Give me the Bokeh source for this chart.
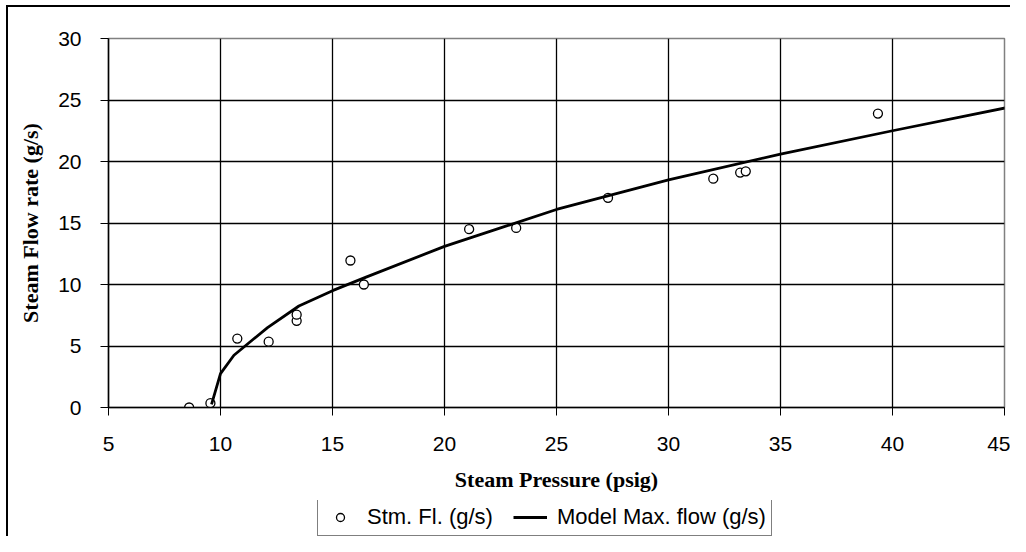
from bokeh.plotting import figure
from bokeh.layouts import column
from bokeh.models import Range1d, Legend, LegendItem, FixedTicker
from bokeh.embed import file_html
from bokeh.resources import INLINE

# Measured data points
pressure = [8.6, 9.55, 10.75, 12.15, 13.4, 13.4, 15.8, 16.4, 21.1, 23.2, 27.3, 32.0, 33.2, 33.45, 39.35]
flow = [0.0, 0.35, 5.6, 5.35, 7.05, 7.55, 11.95, 10.0, 14.5, 14.6, 17.05, 18.6, 19.1, 19.2, 23.9]

# Model curve
model_p = [9.6, 10.0, 10.6, 12.1, 13.5, 15.0, 16.5, 20.0, 25.0, 30.0, 35.0, 40.0, 45.3]
model_f = [0.25, 2.75, 4.25, 6.5, 8.25, 9.5, 10.6, 13.1, 16.1, 18.5, 20.6, 22.5, 24.45]

x_ticks = [5, 10, 15, 20, 25, 30, 35, 40, 45]
y_ticks = [0, 5, 10, 15, 20, 25, 30]

pts_style = dict(marker="circle", size=9, fill_color="white", line_color="black", line_width=1.3)
line_style = dict(line_color="black", line_width=2.8)

p = figure(width=1002, height=493, output_backend="svg", toolbar_location=None,
           x_range=Range1d(5, 45), y_range=Range1d(0, 30),
           min_border_left=100, min_border_top=31, min_border_right=6, min_border_bottom=93)

p.background_fill_color = "white"
p.border_fill_color = "white"
p.outline_line_color = "#808080"
p.outline_line_width = 1.5

for ax in (p.xaxis, p.yaxis):
    ax.axis_line_color = "black"
    ax.axis_line_width = 1.5
    ax.major_tick_line_color = "black"
    ax.major_tick_out = 8
    ax.major_tick_in = 0
    ax.minor_tick_line_color = None
    ax.major_label_text_font = "Liberation Sans"
    ax.major_label_text_font_size = "21px"
    ax.major_label_text_color = "black"
    ax.axis_label_text_font = "Liberation Serif"
    ax.axis_label_text_font_style = "bold"
    ax.axis_label_text_font_size = "22px"
    ax.axis_label_text_color = "black"

p.xaxis.ticker = FixedTicker(ticks=x_ticks)
p.yaxis.ticker = FixedTicker(ticks=y_ticks)
p.xaxis.axis_label = "Steam Pressure (psig)"
p.yaxis.axis_label = "Steam Flow rate (g/s)"
p.xaxis.major_label_standoff = 21
p.yaxis.major_label_standoff = 19
p.xaxis.axis_label_standoff = 13
p.yaxis.axis_label_standoff = 12

p.xgrid.ticker = FixedTicker(ticks=x_ticks)
p.ygrid.ticker = FixedTicker(ticks=y_ticks)
for g in (p.xgrid, p.ygrid):
    g.grid_line_color = "black"
    g.grid_line_width = 1.3

p.scatter(pressure, flow, **pts_style)
p.line(model_p, model_f, **line_style)

# Legend strip below the chart
lg = figure(width=1002, height=36, output_backend="svg", toolbar_location=None,
            x_range=Range1d(-10, -9), y_range=Range1d(-10, -9),
            x_axis_type=None, y_axis_type=None,
            min_border_left=0, min_border_right=0, min_border_top=0, min_border_bottom=0)
lg.outline_line_color = None
lg.xgrid.visible = False
lg.ygrid.visible = False
r_pts = lg.scatter(pressure, flow, **pts_style)
r_line = lg.line(model_p, model_f, **line_style)

legend = Legend(items=[LegendItem(label="Stm. Fl. (g/s)", renderers=[r_pts]),
                       LegendItem(label="Model Max. flow (g/s)", renderers=[r_line])],
                orientation="horizontal", location=(209, 0))
legend.label_text_font = "Liberation Sans"
legend.label_text_font_size = "22px"
legend.label_text_color = "black"
legend.border_line_color = "black"
legend.border_line_width = 1.5
legend.background_fill_alpha = 1
legend.padding = 5
legend.margin = 0
legend.spacing = 20
legend.glyph_width = 34
legend.glyph_height = 20
legend.label_standoff = 10
lg.add_layout(legend, "center")

inner = column(p, lg, spacing=0,
               styles={"border-left": "2px solid black", "border-top": "2px solid black"})
layout = column(inner, spacing=0, styles={"padding-left": "6px", "padding-top": "5px"})

open("out.html", "w").write(file_html(layout, INLINE))
